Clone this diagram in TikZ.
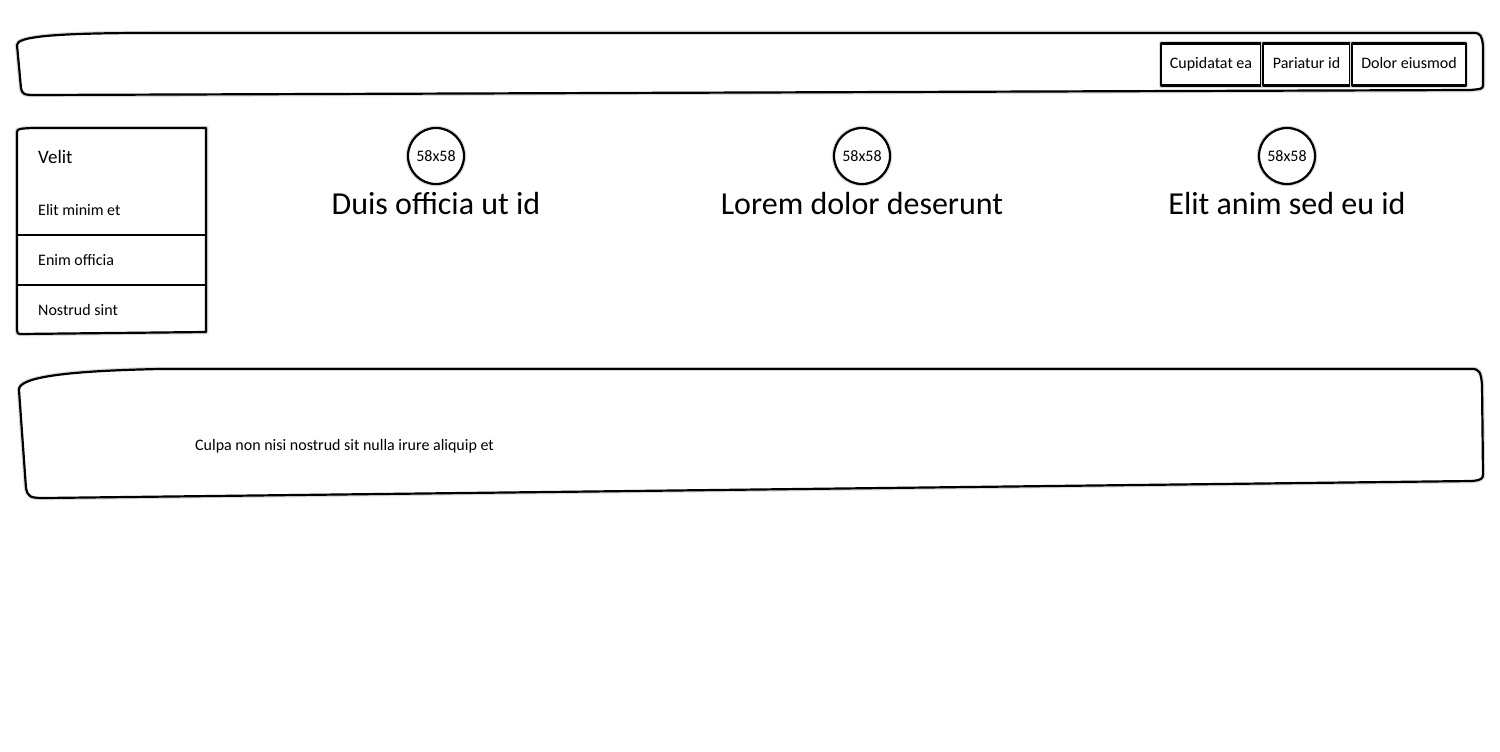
\documentclass[tikz,border=0pt]{standalone}
\usepackage{fontspec}
\setmainfont{Carlito}
\begin{document}
\begin{tikzpicture}[x=1pt,y=-1pt,
  halo/.style={preaction={draw=black!14,line width=4.5pt}},
  sketch/.style={draw=black,line width=2.2pt,fill=white,line join=round,halo},
  btn/.style={sketch,rectangle,inner sep=0pt,minimum height=42pt,text height=11pt,text depth=3pt,font=\fontsize{16}{18}\selectfont},
  item/.style={anchor=west,inner sep=0pt,font=\fontsize{16}{18}\selectfont},
  avatar/.style={sketch,circle,inner sep=0pt,minimum size=56pt,font=\fontsize{16}{18}\selectfont},
  title/.style={inner sep=0pt,font=\fontsize{32}{36}\selectfont}
]
\useasboundingbox[fill=white] (0,0) rectangle (1500,752);

% header bar
\path[sketch] (17,45) .. controls (17,37) and (50,33) .. (150,33) -- (1474,33)
  .. controls (1481,33) and (1482,37) .. (1483,46) -- (1483,85)
  .. controls (1483,89) and (1481,89) .. (1470,90) -- (35,95)
  .. controls (24,95) and (22,94) .. (21,88) -- cycle;
\node[btn,minimum width=100pt] (b1) at (1211,64.5) {Cupidatat ea};
\node[btn,minimum width=87pt] (b2) at (1306.5,64.5) {Pariatur id};
\node[btn,minimum width=114pt] (b3) at (1409,64.5) {Dolor eiusmod};

% sidebar
\path[sketch] (17,132) .. controls (17,129) and (20,128) .. (40,128) -- (206,128) -- (206,332) -- (20,334) .. controls (18,334) and (17,333) .. (17,330) -- cycle;
\coordinate (d1l) at (17,235); \coordinate (d1r) at (206,235);
\coordinate (d2l) at (17,285); \coordinate (d2r) at (206,285);
\draw[line width=2.2pt] (d1l) -- (d1r);
\draw[line width=2.2pt] (d2l) -- (d2r);
\node[item,font=\fontsize{19}{22}\selectfont] (s0) at (38,157) {Velit};
\node[item] (s1) at (38,210) {Elit minim et};
\node[item] (s2) at (38,260) {Enim officia};
\node[item] (s3) at (38,310) {Nostrud sint};

% features
\node[avatar] (c1) at (436,156) {58x58};
\node[avatar] (c2) at (862,156) {58x58};
\node[avatar] (c3) at (1287,156) {58x58};
\node[title] (t1) at (436,204) {Duis officia ut id};
\node[title] (t2) at (862,204) {Lorem dolor deserunt};
\node[title] (t3) at (1287,204) {Elit anim sed eu id};

% footer
\path[sketch] (19,390) .. controls (18,378) and (60,371) .. (160,369) -- (1472,369)
  .. controls (1479,369) and (1481,372) .. (1482,385) -- (1483,474)
  .. controls (1483,479) and (1481,480) .. (1472,481) -- (45,498)
  .. controls (30,498) and (28,497) .. (26,488) -- cycle;
\node[item] (f1) at (195,446) {Culpa non nisi nostrud sit nulla irure aliquip et};
\end{tikzpicture}
\end{document}
